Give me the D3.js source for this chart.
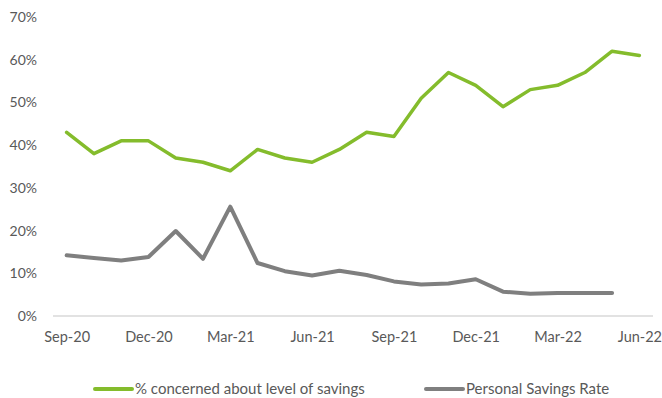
<!DOCTYPE html>
<html>
<head>
<meta charset="utf-8">
<script src="https://cdn.jsdelivr.net/npm/d3@7"></script>
<style>
  body { margin: 0; background: #fff; }
  text { font-family: Lato, "Open Sans", sans-serif; fill: #595959; }
</style>
</head>
<body>
<div id="chart"></div>
<script>
// data
const months = ['Sep-20', 'Oct-20', 'Nov-20', 'Dec-20', 'Jan-21', 'Feb-21', 'Mar-21', 'Apr-21',
  'May-21', 'Jun-21', 'Jul-21', 'Aug-21', 'Sep-21', 'Oct-21', 'Nov-21', 'Dec-21',
  'Jan-22', 'Feb-22', 'Mar-22', 'Apr-22', 'May-22', 'Jun-22'];
const concerned = [43, 38, 41, 41, 37, 36, 34, 39, 37, 36, 39, 43, 42, 51, 57, 54, 49, 53, 54, 57, 62, 61];
const savingsRate = [14.2, 13.6, 13.0, 13.8, 19.9, 13.4, 25.6, 12.4, 10.5, 9.5, 10.6, 9.6, 8.1, 7.4,
  7.6, 8.6, 5.7, 5.2, 5.4, 5.4, 5.4];
const tickLabels = ['Sep-20', 'Dec-20', 'Mar-21', 'Jun-21', 'Sep-21', 'Dec-21', 'Mar-22', 'Jun-22'];
const yTicks = [0, 10, 20, 30, 40, 50, 60, 70];
const seriesNames = ['% concerned about level of savings', 'Personal Savings Rate'];
const colors = ['#84bc2c', '#7f7f7f'];

const W = 662, H = 398;
const margin = { top: 17, right: 9, bottom: 82, left: 53 };
const width = W - margin.left - margin.right;
const height = H - margin.top - margin.bottom;

const svg = d3.select('#chart').append('svg')
  .attr('width', W)
  .attr('height', H);
const g = svg.append('g')
  .attr('transform', `translate(${margin.left},${margin.top})`);

const x = d3.scalePoint()
  .domain(months)
  .range([0, width])
  .padding(0.5);

const y = d3.scaleLinear()
  .domain([0, 70])
  .range([height, 0]);

// y axis labels (no line)
const yAxis = g.append('g')
  .call(d3.axisLeft(y).tickValues(yTicks).tickSize(0).tickPadding(16).tickFormat(d => d + '%'));
yAxis.select('.domain').remove();
yAxis.selectAll('text').style('font-size', '14px').attr('fill', '#595959');

// x axis
const xAxis = g.append('g')
  .attr('transform', `translate(0,${height})`)
  .call(d3.axisBottom(x).tickValues(tickLabels).tickSize(0).tickPadding(16));
xAxis.select('.domain').attr('stroke', '#d9d9d9').attr('stroke-width', 1.3)
  .attr('d', `M0,0H${width}`);
xAxis.selectAll('text').style('font-size', '14.5px').attr('fill', '#595959');

const line = d3.line()
  .x((d, i) => x(months[i]))
  .y(d => y(d));

g.append('path')
  .datum(savingsRate)
  .attr('fill', 'none')
  .attr('stroke', colors[1])
  .attr('stroke-width', 4)
  .attr('stroke-linejoin', 'round')
  .attr('stroke-linecap', 'round')
  .attr('d', line);

g.append('path')
  .datum(concerned)
  .attr('fill', 'none')
  .attr('stroke', colors[0])
  .attr('stroke-width', 3.5)
  .attr('stroke-linejoin', 'round')
  .attr('stroke-linecap', 'round')
  .attr('d', line);

// legend
const legendX = [95, 426];
const legend = svg.append('g').attr('transform', 'translate(0,389)');
seriesNames.forEach((name, i) => {
  const lg = legend.append('g').attr('transform', `translate(${legendX[i]},0)`);
  lg.append('line')
    .attr('x1', 0).attr('x2', 37)
    .attr('y1', 0).attr('y2', 0)
    .attr('stroke', colors[i])
    .attr('stroke-width', 4)
    .attr('stroke-linecap', 'round');
  lg.append('text')
    .attr('x', 40)
    .attr('y', 0)
    .attr('dy', '0.35em')
    .style('font-size', '15px')
    .text(name);
});
</script>
</body>
</html>
